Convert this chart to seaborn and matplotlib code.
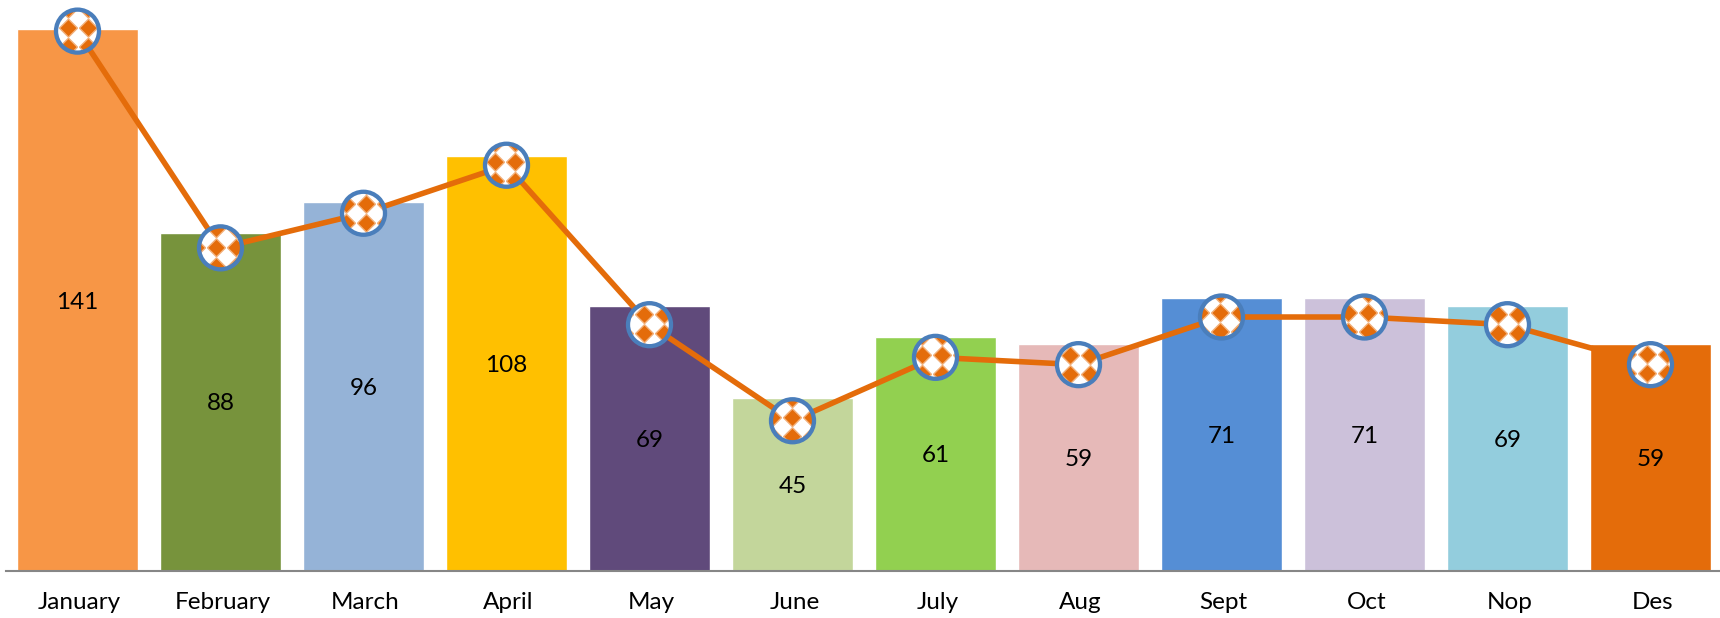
import matplotlib
matplotlib.use("Agg")
import matplotlib.pyplot as plt
import seaborn as sns
from matplotlib.patches import Circle, Polygon
from matplotlib.transforms import ScaledTranslation

months = ['January', 'February', 'March', 'April', 'May', 'June', 'July',
          'Aug', 'Sept', 'Oct', 'Nop', 'Des']
bar_values = [141, 88, 96, 108, 69, 45, 61, 59, 71, 71, 69, 59]
line_values = [140.5, 84.1, 93.1, 105.6, 64.1, 39.1, 55.6, 53.7, 66.1, 66.1, 64.1, 53.7]
bar_colors = ['#F79646', '#77933C', '#95B3D7', '#FFC000', '#604A7B', '#C3D69B',
              '#92D050', '#E6B9B8', '#558ED5', '#CCC1DA', '#93CDDD', '#E46C0A']

# where the ball texture sits inside each marker, in pixels
ball_phase = [(-9, 3), (-4, 0), (3, -10), (-11, 3), (-5, -9), (0, 3),
              (7, 2), (-8, 9), (-1, 4), (4, 4), (-9, 10), (-3, 10)]

orange = '#E46C0A'
ring = '#4A7EBB'

sns.set_style("white")
plt.rcParams['font.family'] = ['Lato', 'DejaVu Sans']

fig = plt.figure(figsize=(17.2, 6.18), dpi=100)
ax = fig.add_axes([6 / 1720, 47 / 618, 1716 / 1720, 571 / 618])

sns.barplot(x=months, y=bar_values, hue=months, palette=bar_colors, legend=False,
            width=0.845, saturation=1, ax=ax)
sns.lineplot(x=months, y=line_values, color=orange, linewidth=4.0, sort=False,
             errorbar=None, ax=ax, zorder=5)

ax.set_xlim(-0.5, 11.5)
ax.set_ylim(0, 148.6)
ax.set_yticks([])
ax.set_xlabel('')
ax.set_ylabel('')
ax.tick_params(axis='x', length=0, pad=15, labelsize=17.5, labelcolor='#000000')
for side in ['top', 'left', 'right']:
    ax.spines[side].set_visible(False)
ax.spines['bottom'].set_color('#868686')
ax.spines['bottom'].set_linewidth(1.5)

# month labels sit a little right of the bar centres
for label in ax.get_xticklabels():
    label.set_transform(label.get_transform() + ScaledTranslation(2 / 100, 0, fig.dpi_scale_trans))

# values in the middle of each bar
for i, v in enumerate(bar_values):
    ax.text(i, v / 2 - 0.5, str(v), ha='center', va='center', fontsize=17.5, color='black', zorder=4)

# ball markers, sizes here are in pixels
for i, v in enumerate(line_values):
    tr = ScaledTranslation(i, v, ax.transData)
    back = Circle((0, 0), 21, transform=tr, facecolor='white', edgecolor='none', zorder=6, clip_on=False)
    ax.add_artist(back)
    px, py = ball_phase[i]
    for col in range(-3, 4):
        for row in range(-3, 4):
            cx = px + col * 20
            cy = py + row * 19
            d = Polygon([(cx - 9, cy), (cx, cy + 9), (cx + 9, cy), (cx, cy - 9)],
                        transform=tr, facecolor=orange, edgecolor='#F2B07A', linewidth=1.0, zorder=7)
            ax.add_artist(d)
            d.set_clip_path(back)
    edge = Circle((0, 0), 21.5, transform=tr, facecolor='none', edgecolor=ring, linewidth=3.1, zorder=8, clip_on=False)
    ax.add_artist(edge)

fig.savefig('out.png', dpi=100)
